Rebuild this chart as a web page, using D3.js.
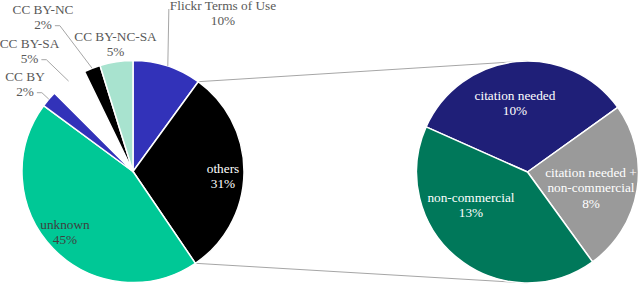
<!DOCTYPE html>
<html>
<head>
<meta charset="utf-8">
<script src="https://cdn.jsdelivr.net/npm/d3@7"></script>
<style>
  body { margin: 0; background: #fff; }
  svg { display: block; }
</style>
</head>
<body>
<div id="chart"></div>
<script>
// secondary pie (split of "others")
var subNames = ["citation needed", "citation needed + non-commercial", "non-commercial"];
var subValues = [10.2, 7.6, 12.7];
var subLabels = ["10%", "8%", "13%"];

// main pie, clockwise from 12 o'clock; "others" = sum of the secondary pie
var mainNames = ["Flickr Terms of Use", "others", "unknown", "CC BY", "CC BY-SA", "CC BY-NC", "CC BY-NC-SA"];
var mainValues = [10.0, d3.sum(subValues), 44.6, 2.4, 5.3, 2.4, 4.8];
var mainLabels = ["10%", "31%", "45%", "2%", "5%", "2%", "5%"];

var mainColors = ["#3232b9", "#000000", "#00c896", "#3232b9", "#ffffff", "#000000", "#a8e3cf"];
var subColors = ["#1f1f78", "#9a9a9a", "#00785a"];

var W = 640, H = 285;
var svg = d3.select("#chart").append("svg")
  .attr("width", W)
  .attr("height", H);

var font = "'Liberation Serif', 'Times New Roman', serif";
var fs = 13.3, lh = 15.7;
var r = 111;
var c1 = {x: 133, y: 171.5}, c2 = {x: 527.5, y: 172};

var mainPie = d3.pie().sort(null).value(function(d) { return d; })
  .startAngle(0).endAngle(2 * Math.PI);
var subPie = d3.pie().sort(null).value(function(d) { return d; })
  .startAngle(-66 * Math.PI / 180).endAngle(294 * Math.PI / 180);

var arc = d3.arc().innerRadius(0).outerRadius(r);
var mainArcs = mainPie(mainValues);
var subArcs = subPie(subValues);

function onCircle(c, a, rad) {
  return [c.x + rad * Math.sin(a), c.y - rad * Math.cos(a)];
}

// connector lines from "others" to the secondary pie
var oth = mainArcs[1];
var conn = [
  [onCircle(c1, oth.startAngle, r), [c2.x, c2.y - r]],
  [onCircle(c1, oth.endAngle, r), [c2.x, c2.y + r]]
];
svg.append("g").selectAll("line")
  .data(conn)
  .enter().append("line")
    .attr("x1", function(d) { return d[0][0]; })
    .attr("y1", function(d) { return d[0][1]; })
    .attr("x2", function(d) { return d[1][0]; })
    .attr("y2", function(d) { return d[1][1]; })
    .attr("stroke", "#a6a6a6")
    .attr("stroke-width", 1);

// main pie
svg.append("g")
  .attr("transform", "translate(" + c1.x + "," + c1.y + ")")
  .selectAll("path")
  .data(mainArcs)
  .enter().append("path")
    .attr("d", arc)
    .attr("fill", function(d, i) { return mainColors[i]; })
    .attr("stroke", "#fff")
    .attr("stroke-width", 1.5)
    .attr("stroke-linejoin", "round");

// secondary pie
svg.append("g")
  .attr("transform", "translate(" + c2.x + "," + c2.y + ")")
  .selectAll("path")
  .data(subArcs)
  .enter().append("path")
    .attr("d", arc)
    .attr("fill", function(d, i) { return subColors[i]; })
    .attr("stroke", "#fff")
    .attr("stroke-width", 1.5)
    .attr("stroke-linejoin", "round");

// label placement: centre x, centre y of first line, colour, leader type
var mainPos = [
  {x: 223, y: 5, color: "#595959", leader: "flickr"},
  {x: 223, y: 168, color: "#ffffff"},
  {x: 65, y: 224, color: "#3f3f3f"},
  {x: 25, y: 76, color: "#595959", leader: "side"},
  {x: 29.5, y: 43, color: "#595959", leader: "side"},
  {x: 43, y: 9, color: "#595959", leader: "side"},
  {x: 115.5, y: 36, color: "#595959"}
];
var subPos = [
  {x: 515, y: 95},
  {x: 591, y: 172},
  {x: 471, y: 197}
];

function addLabel(g, x, y, lines, color) {
  var t = g.append("text")
    .attr("font-family", font)
    .attr("font-size", fs)
    .attr("fill", color)
    .attr("text-anchor", "middle");
  lines.forEach(function(s, k) {
    t.append("tspan")
      .attr("x", x)
      .attr("y", y + k * lh)
      .attr("dy", "0.35em")
      .text(s);
  });
  return t;
}

var leaders = svg.append("g");
var labels = svg.append("g");

mainArcs.forEach(function(d, i) {
  var p = mainPos[i];
  var t = addLabel(labels, p.x, p.y, [mainNames[i], mainLabels[i]], p.color);
  if (!p.leader) return;
  var mid = (d.startAngle + d.endAngle) / 2;
  var end = onCircle(c1, mid, r);
  var pts;
  if (p.leader === "flickr") {
    var first = t.select("tspan").node().getComputedTextLength();
    var lx = p.x - first / 2 - 1;
    pts = [[lx, p.y + 4], [end[0] + 0.5, end[1]]];
  } else {
    var last = t.selectAll("tspan").nodes()[1].getComputedTextLength();
    var sx = p.x + last / 2 + 3, sy = p.y + lh + 1;
    pts = [[sx, sy], [sx + 5, sy], end];
  }
  leaders.append("path")
    .attr("d", d3.line()(pts))
    .attr("fill", "none")
    .attr("stroke", "#a6a6a6")
    .attr("stroke-width", 1);
});

var subLines = [["citation needed"], ["citation needed +", "non-commercial"], ["non-commercial"]];
subArcs.forEach(function(d, i) {
  var p = subPos[i];
  addLabel(labels, p.x, p.y, subLines[i].concat([subLabels[i]]), "#ffffff");
});
</script>
</body>
</html>
